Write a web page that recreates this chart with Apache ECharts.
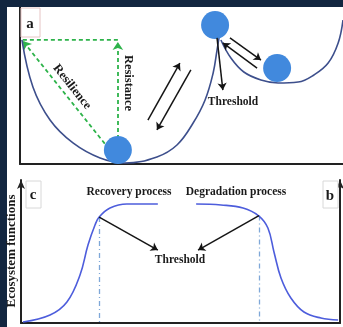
<!DOCTYPE html>
<html><head><meta charset="utf-8">
<script src="https://cdn.jsdelivr.net/npm/echarts@6/dist/echarts.min.js"></script>
<style>html,body{margin:0;padding:0;background:#fff}#c{width:343px;height:327px}</style>
</head><body><div id="c"></div>
<script>
// Panel a (top): ball-and-valley landscape, units 0-100
const valleyLeft = [[0.6,79.0],[4.0,49.0],[9.3,28.0],[16.4,13.4],[24.8,3.8],[32.5,0.6],[42.4,4.5],[48.6,12.1],[53.6,26.1],[57.3,40.8],[59.8,58.0],[61.0,72.6],[61.6,80.3]];
const valleyRight = [[62.2,79.0],[65.3,67.5],[69.3,58.6],[74.6,53.5],[79.9,51.6],[86.1,52.2],[91.0,56.7],[95.4,64.3],[98.5,77.1],[100,91.7]];
const balls = [[60.4,88.5],[79.6,61.1],[30.3,8.9]];
const greenArrows = [[[30.3,2.5],[30.3,77.7]],[[30.3,2.5],[0.9,78.3]]];
const greenLine = [[30.3,79.0],[0.6,79.0]];
const blackArrowsTop = [[[39.6,28.0],[49.5,64.3]],[[52.9,59.9],[42.4,21.7]],[[61.0,80.3],[62.8,47.1]],[[65.0,80.3],[74.6,66.2]],[[73.4,61.1],[62.8,77.1]]];
// Panels b/c (bottom): ecosystem functions, units 0-100
const recovery = [[0.6,0.7],[9.1,5.6],[14.4,14.7],[18.5,33.6],[21.0,54.5],[23.2,68.5],[24.5,74.1],[27.9,80.4],[33.2,83.2],[42.9,83.2]];
const degradation = [[54.9,83.2],[62.7,82.5],[69.6,80.4],[74.6,74.8],[77.4,66.4],[79.3,49.7],[81.5,31.5],[84.6,17.5],[88.7,7.7],[94.0,3.5],[99.4,2.1]];
const thresholds = [[24.5,74.1],[74.6,75.1]];
const blackArrowsBottom = [[[24.5,74.1],[42.9,51.0]],[[74.6,75.1],[55.5,51.0]]];

const navy = '#122640';
const font = 'Liberation Serif';
const chart = echarts.init(document.getElementById('c'));
function txt(x,y,s,size,rot){
  return {type:'text',x:x,y:y,rotation:rot||0,z:100,
    style:{text:s,font:'bold '+size+'px "'+font+'"',fill:'#1a1a1a',align:'center',verticalAlign:'middle'}};
}
const hidden = {show:false};
chart.setOption({
  backgroundColor:'#ffffff',
  animation:false,
  grid:[
    {left:20,top:7,width:323,height:157},
    {left:21,top:180,width:319,height:143}
  ],
  xAxis:[
    {gridIndex:0,type:'value',min:0,max:100,axisLine:{show:true,onZero:false,lineStyle:{color:'#222',width:2}},axisTick:hidden,axisLabel:hidden,splitLine:hidden},
    {gridIndex:1,type:'value',min:0,max:100,axisLine:{show:true,onZero:false,lineStyle:{color:'#222',width:2}},axisTick:hidden,axisLabel:hidden,splitLine:hidden}
  ],
  yAxis:[
    {gridIndex:0,type:'value',min:0,max:100,axisLine:{show:true,onZero:false,lineStyle:{color:'#222',width:2}},axisTick:hidden,axisLabel:hidden,splitLine:hidden},
    {gridIndex:1,type:'value',min:0,max:100,position:'left',axisLine:{show:true,onZero:false,symbol:['none','arrow'],symbolSize:[6,9],lineStyle:{color:'#222',width:2}},axisTick:hidden,axisLabel:hidden,splitLine:hidden},
    {gridIndex:1,type:'value',min:0,max:100,position:'right',axisLine:{show:true,onZero:false,symbol:['none','arrow'],symbolSize:[6,9],lineStyle:{color:'#222',width:2}},axisTick:hidden,axisLabel:hidden,splitLine:hidden}
  ],
  series:[
    {type:'line',xAxisIndex:0,yAxisIndex:0,data:valleyLeft,smooth:0.4,showSymbol:false,clip:false,lineStyle:{color:'#3d4f8c',width:1.6}},
    {type:'line',xAxisIndex:0,yAxisIndex:0,data:valleyRight,smooth:0.4,showSymbol:false,clip:false,lineStyle:{color:'#3d4f8c',width:1.6}},
    {type:'line',xAxisIndex:0,yAxisIndex:0,data:greenLine,showSymbol:false,lineStyle:{color:'#2db34a',width:1.8,type:[4,3]}},
    {type:'lines',coordinateSystem:'cartesian2d',xAxisIndex:0,yAxisIndex:0,symbol:['none','arrow'],symbolSize:8,z:3,
      lineStyle:{color:'#2db34a',width:1.8,type:[4,3],opacity:1},data:greenArrows.map(c=>({coords:c}))},
    {type:'scatter',xAxisIndex:0,yAxisIndex:0,data:balls,symbolSize:28,z:4,itemStyle:{color:'#4189dd',opacity:1}},
    {type:'lines',coordinateSystem:'cartesian2d',xAxisIndex:0,yAxisIndex:0,symbol:['none','arrow'],symbolSize:7,z:5,
      lineStyle:{color:'#151515',width:1.5,opacity:1},data:blackArrowsTop.map(c=>({coords:c}))},
    {type:'line',xAxisIndex:1,yAxisIndex:1,data:recovery,smooth:0.4,showSymbol:false,clip:false,lineStyle:{color:'#4d5ddc',width:1.6}},
    {type:'line',xAxisIndex:1,yAxisIndex:1,data:degradation,smooth:0.4,showSymbol:false,clip:false,lineStyle:{color:'#4d5ddc',width:1.6}},
    {type:'lines',coordinateSystem:'cartesian2d',xAxisIndex:1,yAxisIndex:1,z:1,
      lineStyle:{color:'#7ea7d8',width:1.3,type:[5,3,1,3],opacity:1},data:thresholds.map(p=>({coords:[[p[0],p[1]],[p[0],0]]}))},
    {type:'lines',coordinateSystem:'cartesian2d',xAxisIndex:1,yAxisIndex:1,symbol:['none','arrow'],symbolSize:7,z:5,
      lineStyle:{color:'#151515',width:1.5,opacity:1},data:blackArrowsBottom.map(c=>({coords:c}))}
  ],
  graphic:[
    {type:'rect',shape:{x:0,y:0,width:343,height:7},style:{fill:navy},z:100},
    {type:'rect',shape:{x:0,y:0,width:7,height:327},style:{fill:navy},z:100},
    {type:'rect',shape:{x:21,y:8,width:19,height:29},style:{fill:'#fff',stroke:'#e6c4c4',lineWidth:1},z:90},
    {type:'rect',shape:{x:26,y:181,width:15,height:27},style:{fill:'#fff',stroke:'#d8d8d8',lineWidth:1},z:90},
    {type:'rect',shape:{x:323,y:181,width:15,height:27},style:{fill:'#fff',stroke:'#d8d8d8',lineWidth:1},z:90},
    txt(30,24,'a',15),
    txt(33,195,'c',15),
    txt(330,196,'b',15),
    txt(72,87,'Resilience',12.5,-0.9),
    txt(128,83,'Resistance',12.5,-Math.PI/2),
    txt(233,102,'Threshold',11.5),
    txt(129,192,'Recovery process',11.5),
    txt(236,192,'Degradation process',11.5),
    txt(180,260,'Threshold',11.5),
    txt(12,251,'Ecosystem functions',13,Math.PI/2)
  ]
});
</script></body></html>
